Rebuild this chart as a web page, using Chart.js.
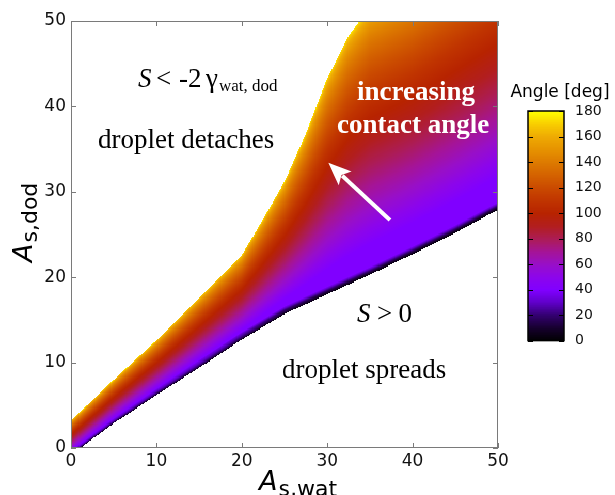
<!DOCTYPE html>
<html><head><meta charset="utf-8">
<script src="https://cdn.jsdelivr.net/npm/chart.js@4"></script>
<style>
html,body{margin:0;padding:0;background:#fff;}
#wrap{position:relative;width:615px;height:495px;overflow:hidden;}
#main{position:absolute;left:0;top:0;}
#cbar{position:absolute;left:500px;top:70px;}
</style></head><body>
<div id="wrap">
<canvas id="main" width="615" height="495"></canvas>
<canvas id="cbar" width="115" height="290"></canvas>
</div>
<script>
// ---------------- data ----------------
const xTicks = [0, 10, 20, 30, 40, 50];
const yTicks = [0, 10, 20, 30, 40, 50];
const angleTicks = [0, 20, 40, 60, 80, 100, 120, 140, 160, 180];

// Lower edge of the coloured region: contact angle = 0 deg (S = 0)
const lowerX = [0, 5, 10, 15, 20, 25, 30, 35, 40, 45, 50];
const lowerY = [-0.8, 2.9, 6.2, 9.4, 12.7, 15.7, 18.0, 20.3, 22.7, 25.2, 27.9];

// Upper edge of the coloured region: contact angle = 180 deg (S = -2 gamma)
const upperX = [0, 5, 10, 15, 20, 22.5, 25, 27.5, 30, 32.5, 35, 40, 45, 50];
const upperY = [3.2, 8.0, 12.6, 17.6, 22.6, 26.8, 31.2, 36.8, 43.3, 48.3, 51.5, 54.0, 57.5, 61.0];

// Angle reached within a thin rim above the S = 0 edge (deg, A units)
const rimAngle = 40;
const rimWidth = 0.9;

// Annotation anchors (data units)
const arrowTail = [37.35, 26.7];
const arrowTip = [30.13, 33.4];

// ---------------- styling ----------------
const cmapStops = [
  [0, 0, 0, 0], [10, 22, 0, 45], [20, 50, 0, 110], [30, 95, 0, 200], [40, 128, 0, 255],
  [50, 140, 5, 235], [60, 152, 15, 200], [70, 165, 20, 150], [80, 172, 28, 85],
  [90, 178, 30, 30], [100, 183, 35, 0], [110, 192, 52, 0], [120, 202, 74, 0],
  [130, 212, 98, 0], [140, 221, 122, 0], [150, 230, 146, 0], [160, 238, 170, 3],
  [170, 248, 205, 0], [180, 255, 255, 0]
];
function cmap(v) {
  if (v <= 0) v = 0; if (v >= 180) v = 180;
  for (let i = 1; i < cmapStops.length; i++) {
    const a = cmapStops[i - 1], b = cmapStops[i];
    if (v <= b[0]) {
      const f = (v - a[0]) / (b[0] - a[0]);
      return 'rgb(' + Math.round(a[1] + f * (b[1] - a[1])) + ',' + Math.round(a[2] + f * (b[2] - a[2])) + ',' + Math.round(a[3] + f * (b[3] - a[3])) + ')';
    }
  }
  return 'rgb(255,255,0)';
}
function edgeAt(xs, ys, v) {
  if (v <= xs[0]) return ys[0];
  for (let i = 1; i < xs.length; i++) {
    if (v <= xs[i]) { const f = (v - xs[i - 1]) / (xs[i] - xs[i - 1]); return ys[i - 1] + f * (ys[i] - ys[i - 1]); }
  }
  return ys[ys.length - 1];
}

const SANS = '"DejaVu Sans", sans-serif';
const SERIF = '"Liberation Serif", "Times New Roman", serif';
const FRAME = '#7a7a7a';

// Heat map: contact angle from Young's relation cos(theta) = 1 + S/gamma,
// with S running from 0 (lower edge) to -2 gamma (upper edge).
const heatPlugin = {
  id: 'heat',
  beforeDatasetsDraw(chart) {
    const { ctx, chartArea: a, scales: { x, y } } = chart;
    ctx.save();
    ctx.beginPath(); ctx.rect(a.left, a.top, a.right - a.left, a.bottom - a.top); ctx.clip();
    const step = 0.125;
    for (let gx = 0; gx < 50; gx += step) {
      const xc = gx + step / 2;
      const L = edgeAt(lowerX, lowerY, xc), U = edgeAt(upperX, upperY, xc);
      const px0 = Math.round(x.getPixelForValue(gx)), px1 = Math.round(x.getPixelForValue(gx + step));
      if (px1 <= px0) continue;
      for (let gy = 0; gy < 50; gy += step) {
        const yc = gy + step / 2;
        const t = (yc - L) / (U - L);
        if (t < 0 || t > 1) continue;
        let theta = Math.acos(1 - 2 * t) * 180 / Math.PI;
        theta = Math.max(theta, rimAngle * Math.min(1, (yc - L) / rimWidth));
        ctx.fillStyle = cmap(theta);
        const py0 = Math.round(y.getPixelForValue(gy + step)), py1 = Math.round(y.getPixelForValue(gy));
        if (py1 <= py0) continue;
        ctx.fillRect(px0, py0, px1 - px0, py1 - py0);
      }
    }
    ctx.restore();
  }
};

const framePlugin = {
  id: 'frame',
  afterDatasetsDraw(chart) {
    const { ctx, chartArea: a, scales: { x, y } } = chart;
    ctx.save();
    ctx.strokeStyle = FRAME; ctx.lineWidth = 1;
    ctx.strokeRect(a.left + 0.5, a.top + 0.5, a.right - a.left - 1, a.bottom - a.top - 1);
    ctx.beginPath();
    xTicks.forEach(v => {
      const p = Math.round(x.getPixelForValue(v)) + 0.5;
      ctx.moveTo(p, a.bottom); ctx.lineTo(p, a.bottom - 5);
      ctx.moveTo(p, a.top); ctx.lineTo(p, a.top + 5);
    });
    yTicks.forEach(v => {
      const p = Math.round(y.getPixelForValue(v)) + 0.5;
      ctx.moveTo(a.left, p); ctx.lineTo(a.left + 5, p);
      ctx.moveTo(a.right, p); ctx.lineTo(a.right - 5, p);
    });
    ctx.stroke();
    ctx.restore();
  }
};

function runs(ctx, x0, y0, parts) {
  parts.forEach(p => {
    ctx.font = p.font;
    ctx.fillText(p.t, x0 + p.dx, y0 + (p.dy || 0));
  });
}

const annotPlugin = {
  id: 'annot',
  afterDatasetsDraw(chart) {
    const { ctx, scales: { x, y } } = chart;
    const X = v => x.getPixelForValue(v), Y = v => y.getPixelForValue(v);
    ctx.save();
    ctx.textBaseline = 'alphabetic'; ctx.textAlign = 'left';
    ctx.fillStyle = '#000';
    runs(ctx, X(7.85), Y(42.3), [
      { t: 'S', font: 'italic 27px ' + SERIF, dx: 0 },
      { t: '<', font: '27px ' + SERIF, dx: 18 },
      { t: '-2', font: '27px ' + SERIF, dx: 41 },
      { t: '\u03b3', font: '27px ' + SERIF, dx: 68 },
      { t: 'wat, dod', font: '17px ' + SERIF, dx: 81, dy: 4 }
    ]);
    ctx.font = '27px ' + SERIF;
    ctx.fillText('droplet detaches', X(3.16), Y(35.1));
    ctx.fillText('droplet spreads', X(24.7), Y(8.16));
    runs(ctx, X(33.5), Y(14.7), [
      { t: 'S', font: 'italic 27px ' + SERIF, dx: 0 },
      { t: '>', font: '27px ' + SERIF, dx: 20 },
      { t: '0', font: '27px ' + SERIF, dx: 41.5 }
    ]);
    ctx.fillStyle = '#fff';
    ctx.font = 'bold 27px ' + SERIF;
    ctx.fillText('increasing', X(33.5), Y(40.75));
    ctx.fillText('contact angle', X(31.15), Y(36.85));
    // arrow
    const tx = X(arrowTail[0]), ty = Y(arrowTail[1]), hx = X(arrowTip[0]), hy = Y(arrowTip[1]);
    const dx = hx - tx, dy = hy - ty, len = Math.hypot(dx, dy), ux = dx / len, uy = dy / len;
    const headL = 23, headW = 9.5;
    const bx = hx - ux * headL, by = hy - uy * headL;
    ctx.strokeStyle = '#fff'; ctx.lineWidth = 4; ctx.lineCap = 'butt';
    ctx.beginPath(); ctx.moveTo(tx, ty); ctx.lineTo(bx + ux * 4, by + uy * 4); ctx.stroke();
    ctx.beginPath();
    ctx.moveTo(hx, hy);
    ctx.lineTo(bx - uy * headW, by + ux * headW);
    ctx.lineTo(bx + ux * 5, by + uy * 5);
    ctx.lineTo(bx + uy * headW, by - ux * headW);
    ctx.closePath(); ctx.fill();
    ctx.restore();

    // axis titles
    ctx.save();
    ctx.fillStyle = '#000';
    ctx.textBaseline = 'alphabetic';
    ctx.font = 'italic 27px ' + SANS;
    ctx.fillText('A', 259, 490);
    const wA = ctx.measureText('A').width;
    ctx.font = '22px ' + SANS;
    ctx.fillText('s,wat', 259 + wA + 1, 496);
    ctx.translate(32, 262);
    ctx.rotate(-Math.PI / 2);
    ctx.font = 'italic 27px ' + SANS;
    ctx.fillText('A', 0, 0);
    ctx.font = '22px ' + SANS;
    ctx.fillText('s,dod', wA + 1, 5);
    ctx.restore();

    // colour bar title
    ctx.save();
    ctx.fillStyle = '#000';
    ctx.font = '17px ' + SANS;
    ctx.textAlign = 'center';
    ctx.fillText('Angle [deg]', 560, 97);
    ctx.restore();
  }
};

new Chart(document.getElementById('main'), {
  type: 'scatter',
  data: { datasets: [] },
  options: {
    responsive: false, animation: false, devicePixelRatio: 1,
    layout: { padding: { left: 0, top: 21, right: 117, bottom: 0 } },
    plugins: { legend: { display: false }, tooltip: { enabled: false } },
    scales: {
      x: {
        type: 'linear', min: 0, max: 50,
        afterBuildTicks(s) { s.ticks = xTicks.map(v => ({ value: v })); },
        afterFit(s) { s.height = 47; },
        grid: { display: false, drawTicks: false }, border: { display: false },
        ticks: { padding: 3, color: '#111', font: { family: SANS, size: 17 } }
      },
      y: {
        type: 'linear', min: 0, max: 50,
        afterBuildTicks(s) { s.ticks = yTicks.map(v => ({ value: v })); },
        afterFit(s) { s.width = 71; },
        grid: { display: false, drawTicks: false }, border: { display: false },
        ticks: { padding: 5, color: '#111', font: { family: SANS, size: 17 } }
      }
    }
  },
  plugins: [heatPlugin, framePlugin, annotPlugin]
});

const cbarPlugin = {
  id: 'cbarfill',
  beforeDatasetsDraw(chart) {
    const { ctx, chartArea: a, scales: { y } } = chart;
    ctx.save();
    for (let v = 0; v < 180; v += 0.5) {
      const p0 = y.getPixelForValue(v + 0.5), p1 = y.getPixelForValue(v);
      ctx.fillStyle = cmap(v + 0.25);
      ctx.fillRect(a.left, Math.floor(p0), a.right - a.left, Math.ceil(p1) - Math.floor(p0));
    }
    ctx.strokeStyle = '#000'; ctx.lineWidth = 1.5;
    ctx.strokeRect(a.left, a.top, a.right - a.left, a.bottom - a.top);
    ctx.lineWidth = 1;
    ctx.beginPath();
    angleTicks.forEach(v => {
      const p = Math.round(y.getPixelForValue(v)) + 0.5;
      ctx.moveTo(a.left, p); ctx.lineTo(a.left + 5, p);
      ctx.moveTo(a.right, p); ctx.lineTo(a.right - 5, p);
    });
    ctx.stroke();
    ctx.restore();
  }
};

new Chart(document.getElementById('cbar'), {
  type: 'scatter',
  data: { datasets: [] },
  options: {
    responsive: false, animation: false, devicePixelRatio: 1,
    layout: { padding: { left: 28, top: 41, right: 0, bottom: 15 } },
    plugins: { legend: { display: false }, tooltip: { enabled: false } },
    scales: {
      x: { type: 'linear', display: false, min: 0, max: 1 },
      y: {
        type: 'linear', position: 'right', min: 0, max: 180,
        afterBuildTicks(s) { s.ticks = angleTicks.map(v => ({ value: v })); },
        afterFit(s) { s.width = 51; },
        grid: { display: false, drawTicks: false }, border: { display: false },
        ticks: { padding: 11, color: '#111', font: { family: SANS, size: 14 } }
      }
    }
  },
  plugins: [cbarPlugin]
});
</script>
</body></html>
